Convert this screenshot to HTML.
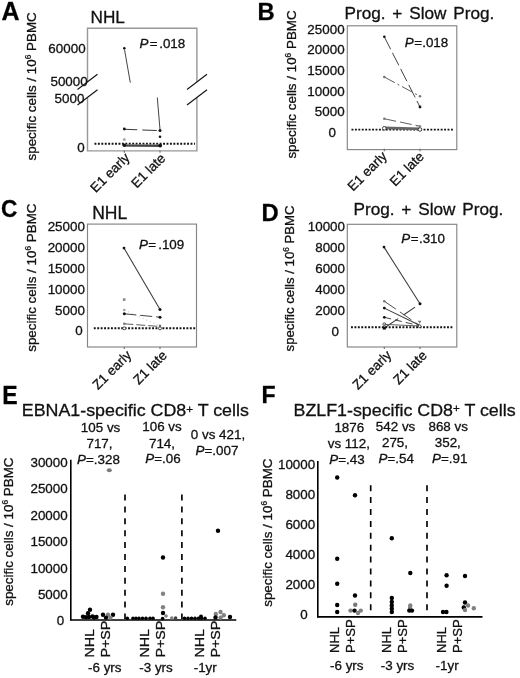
<!DOCTYPE html>
<html><head><meta charset="utf-8"><title>Figure</title>
<style>html,body{margin:0;padding:0;background:#fff}svg{display:block;will-change:transform}text{stroke:#111;stroke-width:0.3px;font-family:'Liberation Sans', sans-serif}</style>
</head><body>
<svg width="520" height="678" viewBox="0 0 520 678">
<rect width="520" height="678" fill="#fff"/>
<text x="1.6" y="20" font-size="25" text-anchor="start" fill="#000" font-weight="bold">A</text>
<text x="90.5" y="23" font-size="17.2" text-anchor="start" fill="#111" >NHL</text>
<text transform="translate(35.8,160.5) rotate(-90)" font-size="13.4" fill="#111">specific cells / 10<tspan font-size="8.3" dy="-5">6</tspan><tspan dy="5"> PBMC</tspan></text>
<path d="M87.5,81.9 V28.3 H196.9 V81.9 M196.9,97.4 V150.9 H87.5 V97.4" fill="none" stroke="#989898" stroke-width="1.4"/>
<text x="85.6" y="52.8" font-size="13.4" text-anchor="end" fill="#111" >60000</text>
<text x="87.7" y="86.4" font-size="13.4" text-anchor="end" fill="#111" >50000</text>
<text x="84.4" y="102.9" font-size="13.4" text-anchor="end" fill="#111" >5000</text>
<text x="84.8" y="152.1" font-size="13.4" text-anchor="end" fill="#111" >0</text>
<line x1="77.5" y1="89.5" x2="97.5" y2="74.2" stroke="#111" stroke-width="1.1"/>
<line x1="77.5" y1="105" x2="97.5" y2="89.7" stroke="#111" stroke-width="1.1"/>
<line x1="187" y1="89.5" x2="207" y2="74.2" stroke="#111" stroke-width="1.1"/>
<line x1="187" y1="105" x2="207" y2="89.7" stroke="#111" stroke-width="1.1"/>
<text x="139.5" y="48.3" font-size="13.4" fill="#111"><tspan font-style="italic">P</tspan><tspan dx="1.3">=</tspan><tspan dx="1.6">.018</tspan></text>
<line x1="124.5" y1="49.5" x2="130.3" y2="82.6" stroke="#3a3a3a" stroke-width="0.9500000000000001"/>
<line x1="157.3" y1="97.5" x2="160" y2="129.5" stroke="#3a3a3a" stroke-width="0.9500000000000001"/>
<circle cx="124.3" cy="48.3" r="1.3" fill="#111"/>
<line x1="124.3" y1="129.2" x2="160" y2="130.6" stroke="#3a3a3a" stroke-width="1.05" stroke-dasharray="13 5 14.5 4"/>
<circle cx="124.3" cy="129" r="1.4" fill="#111"/>
<circle cx="160" cy="130.6" r="1.5" fill="#111"/>
<circle cx="160" cy="136.7" r="1.3" fill="#111"/>
<circle cx="124.3" cy="139.4" r="1.5" fill="#aaa"/>
<line x1="94.5" y1="143.7" x2="195" y2="143.7" stroke="#111" stroke-width="1.95" stroke-dasharray="1.9 1.53"/>
<line x1="124.3" y1="144.6" x2="160" y2="144.9" stroke="#777" stroke-width="0.9500000000000001"/>
<line x1="124.3" y1="145.8" x2="160" y2="146" stroke="#111" stroke-width="1.3"/>
<circle cx="124.3" cy="145.3" r="1.8" fill="#111"/>
<circle cx="160.2" cy="145.6" r="1.9" fill="#111"/>
<line x1="124.3" y1="150.5" x2="124.3" y2="152.7" stroke="#666" stroke-width="1.05"/>
<line x1="160" y1="150.5" x2="160" y2="152.7" stroke="#666" stroke-width="1.05"/>
<text transform="translate(130.6,158.4) rotate(-45)" font-size="13.4" text-anchor="end" fill="#111">E1 early</text>
<text transform="translate(166.2,159.2) rotate(-45)" font-size="13.4" text-anchor="end" fill="#111">E1 late</text>
<text x="257.5" y="19.5" font-size="23.8" text-anchor="start" fill="#000" font-weight="bold">B</text>
<text x="344.5" y="18.8" font-size="17.2" text-anchor="start" fill="#111" word-spacing="2">Prog. + Slow Prog.</text>
<text transform="translate(296.4,158.6) rotate(-90)" font-size="13.4" fill="#111">specific cells / 10<tspan font-size="8.3" dy="-5">6</tspan><tspan dy="5"> PBMC</tspan></text>
<rect x="347.3" y="25.8" width="109.5" height="123.8" fill="none" stroke="#858585" stroke-width="1.15"/>
<text x="344.6" y="33.6" font-size="13.4" text-anchor="end" fill="#111" >25000</text>
<text x="344.6" y="54.0" font-size="13.4" text-anchor="end" fill="#111" >20000</text>
<text x="344.6" y="74.9" font-size="13.4" text-anchor="end" fill="#111" >15000</text>
<text x="344.6" y="95.6" font-size="13.4" text-anchor="end" fill="#111" >10000</text>
<text x="344.6" y="116.3" font-size="13.4" text-anchor="end" fill="#111" >5000</text>
<text x="328.6" y="137.2" font-size="13.4" text-anchor="start" fill="#111" >0</text>
<text x="404.8" y="47.3" font-size="13.4" fill="#111"><tspan font-style="italic">P</tspan><tspan dx="0.4">=</tspan><tspan dx="0.2">.018</tspan></text>
<line x1="384.3" y1="36.8" x2="420" y2="107" stroke="#3a3a3a" stroke-width="0.9500000000000001" stroke-dasharray="14 4"/>
<circle cx="384.3" cy="36.8" r="1.3" fill="#111"/>
<circle cx="420" cy="107" r="1.4" fill="#111"/>
<line x1="384.3" y1="77" x2="420" y2="96.3" stroke="#555" stroke-width="0.9500000000000001" stroke-dasharray="12 3 2 3"/>
<circle cx="384.3" cy="77" r="1.3" fill="#777"/>
<circle cx="420" cy="96.3" r="1.3" fill="#777"/>
<line x1="384.3" y1="118.8" x2="420" y2="126.3" stroke="#666" stroke-width="1.05" stroke-dasharray="12 4"/>
<circle cx="384.3" cy="118.8" r="1.3" fill="#777"/>
<circle cx="420" cy="126.3" r="1.2" fill="#888"/>
<line x1="351.5" y1="129.6" x2="453.5" y2="129.6" stroke="#111" stroke-width="1.95" stroke-dasharray="1.9 1.53"/>
<line x1="384.3" y1="127.8" x2="420" y2="128.8" stroke="#666" stroke-width="2.8"/>
<circle cx="384.3" cy="128.3" r="1.8" fill="#fff" stroke="#222" stroke-width="0.8"/>
<circle cx="420" cy="129.5" r="1.8" fill="#fff" stroke="#222" stroke-width="0.8"/>
<line x1="384.3" y1="148.8" x2="384.3" y2="151.2" stroke="#666" stroke-width="1.05"/>
<line x1="420" y1="148.8" x2="420" y2="151.2" stroke="#666" stroke-width="1.05"/>
<text transform="translate(387.8,157.1) rotate(-45)" font-size="13.4" text-anchor="end" fill="#111">E1 early</text>
<text transform="translate(424.7,157.4) rotate(-45)" font-size="13.4" text-anchor="end" fill="#111">E1 late</text>
<text x="1.1" y="217.4" font-size="24" text-anchor="start" fill="#000" font-weight="bold" textLength="16.4" lengthAdjust="spacingAndGlyphs">C</text>
<text x="92.2" y="218.8" font-size="17.5" text-anchor="start" fill="#111" >NHL</text>
<text transform="translate(35.6,351.8) rotate(-90)" font-size="13.4" fill="#111">specific cells / 10<tspan font-size="8.3" dy="-5">6</tspan><tspan dy="5"> PBMC</tspan></text>
<rect x="87.5" y="224.1" width="109.0" height="122.9" fill="none" stroke="#858585" stroke-width="1.15"/>
<text x="84.9" y="231.0" font-size="13.4" text-anchor="end" fill="#111" >25000</text>
<text x="84.9" y="252.1" font-size="13.4" text-anchor="end" fill="#111" >20000</text>
<text x="84.9" y="272.8" font-size="13.4" text-anchor="end" fill="#111" >15000</text>
<text x="84.9" y="293.5" font-size="13.4" text-anchor="end" fill="#111" >10000</text>
<text x="84.9" y="315.3" font-size="13.4" text-anchor="end" fill="#111" >5000</text>
<text x="75.2" y="335.40000000000003" font-size="13.4" text-anchor="start" fill="#111" >0</text>
<text x="139" y="248.8" font-size="13.4" fill="#111"><tspan font-style="italic">P</tspan><tspan dx="0.4">=</tspan><tspan dx="2.0">.109</tspan></text>
<line x1="124" y1="248.1" x2="160" y2="309.4" stroke="#3a3a3a" stroke-width="1.05"/>
<circle cx="124" cy="248.1" r="1.4" fill="#111"/>
<circle cx="160" cy="309.4" r="1.5" fill="#111"/>
<rect x="122.9" y="298.3" width="2.6" height="2.6" fill="#888"/>
<circle cx="124.3" cy="310" r="1.3" fill="#999"/>
<line x1="124.3" y1="310" x2="160" y2="326" stroke="#bbb" stroke-width="0.9500000000000001" stroke-dasharray="1 3"/>
<line x1="124.3" y1="313.8" x2="160" y2="317.2" stroke="#3a3a3a" stroke-width="0.9500000000000001" stroke-dasharray="12 4"/>
<circle cx="124.3" cy="313.8" r="1.5" fill="#111"/>
<circle cx="160" cy="317.2" r="1.5" fill="#111"/>
<line x1="124.3" y1="323.8" x2="160" y2="326.5" stroke="#555" stroke-width="0.9500000000000001" stroke-dasharray="9 3"/>
<circle cx="124.3" cy="323.8" r="1.3" fill="#777"/>
<circle cx="160" cy="325.8" r="1.3" fill="#777"/>
<line x1="93.8" y1="328.2" x2="195.5" y2="328.2" stroke="#111" stroke-width="1.95" stroke-dasharray="1.9 1.53"/>
<circle cx="124.3" cy="328.3" r="1.5" fill="#fff" stroke="#222" stroke-width="0.8"/>
<circle cx="160" cy="328.3" r="1.5" fill="#fff" stroke="#222" stroke-width="0.8"/>
<line x1="124.3" y1="347" x2="124.3" y2="349" stroke="#666" stroke-width="1.05"/>
<line x1="160" y1="347" x2="160" y2="349" stroke="#666" stroke-width="1.05"/>
<text transform="translate(132.2,356) rotate(-45)" font-size="13.4" text-anchor="end" fill="#111">Z1 early</text>
<text transform="translate(167.7,356.2) rotate(-45)" font-size="13.4" text-anchor="end" fill="#111">Z1 late</text>
<text x="261.6" y="220.5" font-size="23.8" text-anchor="start" fill="#000" font-weight="bold">D</text>
<text x="353.5" y="215" font-size="17.2" text-anchor="start" fill="#111" word-spacing="2">Prog. + Slow Prog.</text>
<text transform="translate(294.2,351.4) rotate(-90)" font-size="13.2" fill="#111">specific cells / 10<tspan font-size="8.2" dy="-5">6</tspan><tspan dy="5"> PBMC</tspan></text>
<rect x="347.3" y="224.3" width="109.5" height="122.69999999999999" fill="none" stroke="#858585" stroke-width="1.15"/>
<text x="345" y="231.10000000000002" font-size="13.4" text-anchor="end" fill="#111" >10000</text>
<text x="345" y="251.70000000000002" font-size="13.4" text-anchor="end" fill="#111" >8000</text>
<text x="345" y="272.8" font-size="13.4" text-anchor="end" fill="#111" >6000</text>
<text x="345" y="293.5" font-size="13.4" text-anchor="end" fill="#111" >4000</text>
<text x="345" y="314.8" font-size="13.4" text-anchor="end" fill="#111" >2000</text>
<text x="331.5" y="335.5" font-size="13.4" text-anchor="start" fill="#111" >0</text>
<text x="401.3" y="243.3" font-size="13.4" fill="#111"><tspan font-style="italic">P</tspan><tspan dx="0.4">=</tspan><tspan dx="0.5">.310</tspan></text>
<line x1="384" y1="247.1" x2="420" y2="303.8" stroke="#3a3a3a" stroke-width="1.05"/>
<circle cx="384" cy="247.1" r="1.4" fill="#111"/>
<circle cx="420" cy="303.8" r="1.5" fill="#111"/>
<line x1="384.3" y1="301.2" x2="419.6" y2="325.5" stroke="#444" stroke-width="0.9500000000000001" stroke-dasharray="14 5"/>
<circle cx="384.3" cy="301.2" r="1.3" fill="#777"/>
<line x1="384.3" y1="308.1" x2="419" y2="325" stroke="#3a3a3a" stroke-width="1.05"/>
<circle cx="384.3" cy="308.1" r="1.4" fill="#111"/>
<line x1="384.3" y1="317.3" x2="419.6" y2="325.8" stroke="#3a3a3a" stroke-width="0.9500000000000001" stroke-dasharray="7 4"/>
<circle cx="384.3" cy="317.3" r="1.4" fill="#111"/>
<line x1="384.3" y1="328" x2="420" y2="303.8" stroke="#3a3a3a" stroke-width="1.05" stroke-dasharray="16.7 6.5 14 6.4"/>
<circle cx="384.3" cy="324.2" r="1.4" fill="#fff" stroke="#222" stroke-width="0.8"/>
<line x1="384.3" y1="324.4" x2="419.6" y2="326" stroke="#555" stroke-width="0.9500000000000001"/>
<polygon points="417.8,320.8 421.4,320.8 419.6,323.8" fill="#777"/>
<line x1="351" y1="327.2" x2="453.5" y2="327.2" stroke="#111" stroke-width="1.95" stroke-dasharray="1.9 1.53"/>
<rect x="382.8" y="326.6" width="3" height="3" fill="#111"/>
<circle cx="419.6" cy="326.2" r="1.4" fill="#fff" stroke="#222" stroke-width="0.8"/>
<line x1="384.3" y1="347" x2="384.3" y2="349" stroke="#666" stroke-width="1.05"/>
<line x1="420" y1="347" x2="420" y2="349" stroke="#666" stroke-width="1.05"/>
<text transform="translate(392.2,356) rotate(-45)" font-size="13.4" text-anchor="end" fill="#111">Z1 early</text>
<text transform="translate(427.7,356.2) rotate(-45)" font-size="13.4" text-anchor="end" fill="#111">Z1 late</text>
<text x="2.3" y="403.8" font-size="25" text-anchor="start" fill="#000" font-weight="bold" textLength="15.4" lengthAdjust="spacingAndGlyphs">E</text>
<text transform="translate(21.8,416.4) scale(1.056,1)" font-size="16.9" fill="#111">EBNA1-specific CD8<tspan font-size="11" dy="-3.3">+</tspan><tspan dy="3.3"> T cells</tspan></text>
<text transform="translate(12.8,605.8) rotate(-90)" font-size="13.4" fill="#111">specific cells / 10<tspan font-size="8.3" dy="-5">6</tspan><tspan dy="5"> PBMC</tspan></text>
<text x="67.7" y="467.1" font-size="13.4" text-anchor="end" fill="#111" >30000</text>
<text x="67.7" y="493.3" font-size="13.4" text-anchor="end" fill="#111" >25000</text>
<text x="67.7" y="519.5999999999999" font-size="13.4" text-anchor="end" fill="#111" >20000</text>
<text x="67.7" y="545.9" font-size="13.4" text-anchor="end" fill="#111" >15000</text>
<text x="67.7" y="572.8" font-size="13.4" text-anchor="end" fill="#111" >10000</text>
<text x="67.7" y="598.9" font-size="13.4" text-anchor="end" fill="#111" >5000</text>
<text x="56.8" y="625.0" font-size="13.4" text-anchor="start" fill="#111" >0</text>
<line x1="70.8" y1="459.8" x2="70.8" y2="620.2" stroke="#000" stroke-width="1.6"/>
<line x1="70" y1="620" x2="236.3" y2="620" stroke="#000" stroke-width="1.6"/>
<line x1="125" y1="494.5" x2="125" y2="619" stroke="#000" stroke-width="1.65" stroke-dasharray="6 5.9"/>
<line x1="181.9" y1="494.5" x2="181.9" y2="619" stroke="#000" stroke-width="1.65" stroke-dasharray="6 5.9"/>
<text x="100.6" y="432" font-size="13.4" text-anchor="middle" fill="#111" >105 vs</text>
<text x="99.5" y="448" font-size="13.4" text-anchor="middle" fill="#111" >717,</text>
<text x="98.5" y="463.8" font-size="13.4" text-anchor="middle" fill="#111"><tspan font-style="italic">P</tspan>=.328</text>
<text x="162" y="431.3" font-size="13.4" text-anchor="middle" fill="#111" >106 vs</text>
<text x="162" y="447.5" font-size="13.4" text-anchor="middle" fill="#111" >714,</text>
<text x="163" y="463.3" font-size="13.4" text-anchor="middle" fill="#111"><tspan font-style="italic">P</tspan>=.06</text>
<text x="218" y="439.3" font-size="13.4" text-anchor="middle" fill="#111" >0 vs 421,</text>
<text x="217" y="455" font-size="13.4" text-anchor="middle" fill="#111"><tspan font-style="italic">P</tspan>=.007</text>
<ellipse cx="109.3" cy="470.2" rx="2.5" ry="2" fill="#7a7a7a"/>
<circle cx="90" cy="609.7" r="2.2" fill="#000"/>
<circle cx="88" cy="613.2" r="2.2" fill="#000"/>
<circle cx="83" cy="616.8" r="2.2" fill="#000"/>
<circle cx="86" cy="617.2" r="2.2" fill="#000"/>
<circle cx="89" cy="617" r="2.2" fill="#000"/>
<circle cx="92.5" cy="616.5" r="2.2" fill="#000"/>
<circle cx="96.5" cy="617" r="2.2" fill="#000"/>
<circle cx="94" cy="617.5" r="2.2" fill="#000"/>
<circle cx="103" cy="614.7" r="2.2" fill="#000"/>
<circle cx="108" cy="614.7" r="2.2" fill="#828282"/>
<circle cx="113" cy="614.7" r="2.2" fill="#000"/>
<circle cx="110.5" cy="617.6" r="2.2" fill="#828282"/>
<circle cx="106" cy="617.6" r="2.2" fill="#000"/>
<circle cx="127.3" cy="618.2" r="1.8" fill="#000"/>
<circle cx="133" cy="618.2" r="1.8" fill="#000"/>
<circle cx="136" cy="618.2" r="1.8" fill="#000"/>
<circle cx="139" cy="618.2" r="1.8" fill="#000"/>
<circle cx="142.5" cy="618.2" r="1.8" fill="#000"/>
<circle cx="146" cy="618.2" r="1.8" fill="#000"/>
<circle cx="150" cy="618.2" r="1.8" fill="#000"/>
<circle cx="153" cy="618.2" r="1.8" fill="#000"/>
<circle cx="163" cy="593.8" r="2.2" fill="#828282"/>
<circle cx="163" cy="607.2" r="2.2" fill="#828282"/>
<circle cx="163" cy="613" r="2.2" fill="#000"/>
<circle cx="166" cy="616" r="1.8" fill="#828282"/>
<circle cx="162.6" cy="618.6" r="1.8" fill="#000"/>
<circle cx="171.8" cy="618" r="1.8" fill="#828282"/>
<circle cx="175.6" cy="618" r="1.8" fill="#444"/>
<circle cx="163" cy="557.5" r="2.2" fill="#000"/>
<circle cx="184.5" cy="618.2" r="1.8" fill="#000"/>
<circle cx="188" cy="618.2" r="1.8" fill="#000"/>
<circle cx="191.5" cy="618.2" r="1.8" fill="#000"/>
<circle cx="195" cy="618.2" r="1.8" fill="#000"/>
<circle cx="198.5" cy="618.2" r="1.8" fill="#000"/>
<circle cx="201.5" cy="618.2" r="1.8" fill="#000"/>
<circle cx="205" cy="618.2" r="1.8" fill="#000"/>
<circle cx="201" cy="616.4" r="2" fill="#000"/>
<circle cx="215.8" cy="613.9" r="2.2" fill="#828282"/>
<circle cx="220.5" cy="612" r="2.2" fill="#828282"/>
<circle cx="223.8" cy="615.3" r="2.2" fill="#828282"/>
<circle cx="220.6" cy="617.6" r="2.2" fill="#828282"/>
<circle cx="230" cy="617" r="2.2" fill="#000"/>
<circle cx="215.5" cy="617.5" r="2.2" fill="#000"/>
<circle cx="218" cy="530.8" r="2.2" fill="#000"/>
<text transform="translate(93.7,657.6) rotate(-90) scale(1.065,1)" font-size="13.4" fill="#111">NHL</text>
<text transform="translate(148.8,657.6) rotate(-90) scale(1.065,1)" font-size="13.4" fill="#111">NHL</text>
<text transform="translate(203.8,657.6) rotate(-90) scale(1.065,1)" font-size="13.4" fill="#111">NHL</text>
<text transform="translate(109.5,657.6) rotate(-90) scale(1.065,1)" font-size="13.4" fill="#111">P+SP</text>
<text transform="translate(165,657.6) rotate(-90) scale(1.065,1)" font-size="13.4" fill="#111">P+SP</text>
<text transform="translate(220,657.6) rotate(-90) scale(1.065,1)" font-size="13.4" fill="#111">P+SP</text>
<text x="88" y="672" font-size="13.4" text-anchor="start" fill="#111" >-6 yrs</text>
<text x="139.3" y="672" font-size="13.4" text-anchor="start" fill="#111" >-3 yrs</text>
<text x="193.7" y="672" font-size="13.4" text-anchor="start" fill="#111" >-1yr</text>
<text x="261.5" y="402.7" font-size="24.6" text-anchor="start" fill="#000" font-weight="bold" textLength="14.1" lengthAdjust="spacingAndGlyphs">F</text>
<text transform="translate(293.5,415.6) scale(1.056,1)" font-size="16.9" fill="#111">BZLF1-specific CD8<tspan font-size="11" dy="-3.3">+</tspan><tspan dy="3.3"> T cells</tspan></text>
<text transform="translate(272.4,606.8) rotate(-90)" font-size="13.4" fill="#111">specific cells / 10<tspan font-size="8.3" dy="-5">6</tspan><tspan dy="5"> PBMC</tspan></text>
<text x="315.2" y="468.8" font-size="13.4" text-anchor="end" fill="#111" >10000</text>
<text x="315.2" y="498.8" font-size="13.4" text-anchor="end" fill="#111" >8000</text>
<text x="315.2" y="528.8" font-size="13.4" text-anchor="end" fill="#111" >6000</text>
<text x="315.2" y="558.8" font-size="13.4" text-anchor="end" fill="#111" >4000</text>
<text x="315.2" y="588.8" font-size="13.4" text-anchor="end" fill="#111" >2000</text>
<text x="300.3" y="618.8" font-size="13.4" text-anchor="start" fill="#111" >0</text>
<line x1="317.8" y1="461" x2="317.8" y2="617.6" stroke="#000" stroke-width="1.6"/>
<line x1="317" y1="616.9" x2="482.5" y2="616.9" stroke="#000" stroke-width="1.6"/>
<line x1="370.7" y1="485.2" x2="370.7" y2="611.2" stroke="#000" stroke-width="1.65" stroke-dasharray="6 5.9"/>
<line x1="427" y1="485.2" x2="427" y2="611.2" stroke="#000" stroke-width="1.65" stroke-dasharray="6 5.9"/>
<text x="349.3" y="431.8" font-size="13.4" text-anchor="middle" fill="#111" >1876</text>
<text x="348.8" y="448" font-size="13.4" text-anchor="middle" fill="#111" >vs 112,</text>
<text x="347" y="463.8" font-size="13.4" text-anchor="middle" fill="#111"><tspan font-style="italic">P</tspan>=.43</text>
<text x="395.6" y="430.5" font-size="13.4" text-anchor="middle" fill="#111" >542 vs</text>
<text x="395" y="447" font-size="13.4" text-anchor="middle" fill="#111" >275,</text>
<text x="396.2" y="462.6" font-size="13.4" text-anchor="middle" fill="#111"><tspan font-style="italic">P</tspan>=.54</text>
<text x="448.2" y="430.5" font-size="13.4" text-anchor="middle" fill="#111" >868 vs</text>
<text x="447.8" y="447" font-size="13.4" text-anchor="middle" fill="#111" >352,</text>
<text x="449.8" y="463" font-size="13.4" text-anchor="middle" fill="#111"><tspan font-style="italic">P</tspan>=.91</text>
<circle cx="337.2" cy="477.5" r="2.2" fill="#000"/>
<circle cx="337.2" cy="558.8" r="2.2" fill="#000"/>
<circle cx="337.2" cy="583.8" r="2.2" fill="#000"/>
<circle cx="337.2" cy="605" r="2.2" fill="#000"/>
<circle cx="337.2" cy="612" r="2.2" fill="#000"/>
<circle cx="355" cy="495.3" r="2.2" fill="#000"/>
<circle cx="355" cy="595.5" r="2.2" fill="#000"/>
<circle cx="355.2" cy="604.7" r="2.2" fill="#777"/>
<circle cx="350.5" cy="610.6" r="2.2" fill="#828282"/>
<circle cx="354.5" cy="610.6" r="2.2" fill="#000"/>
<circle cx="360.8" cy="610.6" r="2.2" fill="#828282"/>
<circle cx="358" cy="613" r="2.2" fill="#828282"/>
<circle cx="391.8" cy="538.3" r="2.2" fill="#000"/>
<circle cx="391.8" cy="598" r="2.2" fill="#000"/>
<circle cx="391.8" cy="602" r="2.2" fill="#000"/>
<circle cx="391.8" cy="605.5" r="2.2" fill="#000"/>
<circle cx="391.8" cy="608.8" r="2.2" fill="#000"/>
<circle cx="391.8" cy="612" r="2.2" fill="#000"/>
<circle cx="410.3" cy="573" r="2.2" fill="#000"/>
<circle cx="410.3" cy="605.5" r="2.2" fill="#828282"/>
<circle cx="410" cy="608" r="2.2" fill="#828282"/>
<circle cx="409.3" cy="610.6" r="2.2" fill="#000"/>
<circle cx="412" cy="610.6" r="2.2" fill="#000"/>
<circle cx="446.6" cy="575.3" r="2.2" fill="#000"/>
<circle cx="446.6" cy="585.8" r="2.2" fill="#000"/>
<circle cx="443" cy="612" r="2.2" fill="#000"/>
<circle cx="446.4" cy="612" r="2.2" fill="#000"/>
<circle cx="465" cy="576" r="2.2" fill="#000"/>
<circle cx="465" cy="602.5" r="2.2" fill="#000"/>
<circle cx="468" cy="605.5" r="2.2" fill="#828282"/>
<circle cx="463.8" cy="607.5" r="2.2" fill="#000"/>
<circle cx="465" cy="610" r="2.2" fill="#828282"/>
<circle cx="473.8" cy="608.3" r="2.2" fill="#828282"/>
<text transform="translate(339.3,653) rotate(-90) scale(0.975,1)" font-size="13.4" fill="#111">NHL</text>
<text transform="translate(391.2,653) rotate(-90) scale(0.975,1)" font-size="13.4" fill="#111">NHL</text>
<text transform="translate(446.2,653) rotate(-90) scale(0.975,1)" font-size="13.4" fill="#111">NHL</text>
<text transform="translate(355,653) rotate(-90) scale(0.975,1)" font-size="13.4" fill="#111">P+SP</text>
<text transform="translate(407,653) rotate(-90) scale(0.975,1)" font-size="13.4" fill="#111">P+SP</text>
<text transform="translate(461.8,653) rotate(-90) scale(0.975,1)" font-size="13.4" fill="#111">P+SP</text>
<text x="330" y="670" font-size="13.4" text-anchor="start" fill="#111" >-6 yrs</text>
<text x="380.8" y="670" font-size="13.4" text-anchor="start" fill="#111" >-3 yrs</text>
<text x="435.6" y="670" font-size="13.4" text-anchor="start" fill="#111" >-1yr</text>
</svg>
</body></html>
